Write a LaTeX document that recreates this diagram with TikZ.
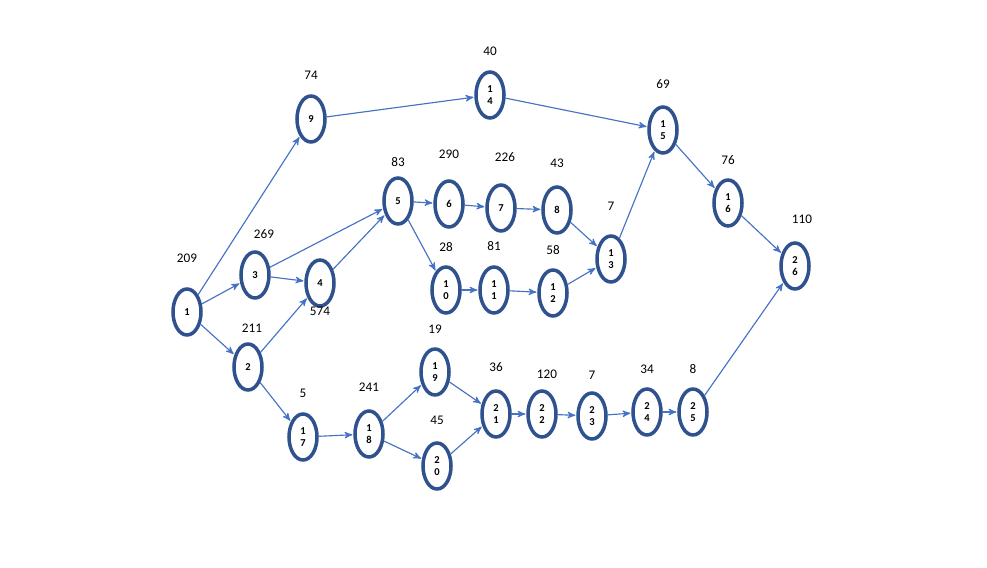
\documentclass[tikz,border=0pt]{standalone}
\usepackage{fontspec}
\setmainfont{Carlito}
\usetikzlibrary{shapes.geometric,positioning,arrows}

\definecolor{ringblue}{HTML}{2F528F}
\definecolor{arrowblue}{HTML}{4472C4}

\begin{document}
\begin{tikzpicture}[->,>=stealth',shorten >=0.5pt,on grid,
  every edge/.append style={arrowblue,line width=0.65pt},
  event/.style={ellipse,draw=ringblue,line width=2pt,inner sep=0pt,
    minimum width=0.56cm,minimum height=0.92cm,align=center,
    font=\fontsize{6}{7.2}\selectfont\bfseries},
  dur/.style={font=\fontsize{7.5}{8}\selectfont}]
   \useasboundingbox (0,0) rectangle (19.74,-11.34);
   \node[event] (n1)  at (3.74,-6.24) {1};
   \node[event] (n9)  [above right=3.86cm and 2.48cm of n1]  {9};
   \node[event] (n3)  [above right=0.74cm and 1.36cm of n1]  {3};
   \node[event] (n2)  [below right=1.1cm and 1.22cm of n1]   {2};
   \node[event] (n4)  [below right=0.16cm and 1.3cm of n3]   {4};
   \node[event] (n5)  [above right=1.64cm and 1.56cm of n4]  {5};
   \node[event] (n6)  [below right=0.06cm and 1.02cm of n5]  {6};
   \node[event] (n7)  [below right=0.08cm and 1.04cm of n6]  {7};
   \node[event] (n8)  [below right=0.04cm and 1.12cm of n7]  {8};
   \node[event] (n10) [below right=1.78cm and 0.96cm of n5]  {1\\0};
   \node[event] (n11) [right=0.96cm of n10]                  {1\\1};
   \node[event] (n12) [below right=0.06cm and 1.18cm of n11] {1\\2};
   \node[event] (n13) [above right=0.68cm and 1.16cm of n12] {1\\3};
   \node[event] (n14) [above right=0.48cm and 3.58cm of n9]  {1\\4};
   \node[event] (n15) [below right=0.7cm and 3.46cm of n14]  {1\\5};
   \node[event] (n16) [below right=1.46cm and 1.3cm of n15]  {1\\6};
   \node[event] (n26) [below right=1.26cm and 1.34cm of n16] {2\\6};
   \node[event] (n17) [below right=1.4cm and 1.1cm of n2]    {1\\7};
   \node[event] (n18) [above right=0.06cm and 1.32cm of n17] {1\\8};
   \node[event] (n19) [above right=1.24cm and 1.32cm of n18] {1\\9};
   \node[event] (n20) [below right=0.64cm and 1.36cm of n18] {2\\0};
   \node[event] (n21) [below right=0.84cm and 1.22cm of n19] {2\\1};
   \node[event] (n22) [right=0.92cm of n21]                  {2\\2};
   \node[event] (n23) [below right=0.04cm and 1cm of n22]    {2\\3};
   \node[event] (n24) [above right=0.08cm and 1.1cm of n23]  {2\\4};
   \node[event] (n25) [right=0.92cm of n24]                  {2\\5};
   % durations
   \node[dur] (d1)  [above=1.08cm of n1]                  {209};
   \node[dur] (d3)  [above right=0.82cm and 0.18cm of n3] {269};
   \node[dur] (d2)  [above right=0.78cm and 0.08cm of n2] {211};
   \node[dur] (d4)  [below=0.56cm of n4]                  {574};
   \node[dur] (d9)  [above=0.88cm of n9]                  {74};
   \node[dur] (d14) [above=0.88cm of n14]                 {40};
   \node[dur] (d5)  [above=0.78cm of n5]                  {83};
   \node[dur] (d6)  [above=1cm of n6]                     {290};
   \node[dur] (d7)  [above right=1.02cm and 0.08cm of n7] {226};
   \node[dur] (d8)  [above=0.94cm of n8]                  {43};
   \node[dur] (d13) [above=1.06cm of n13]                 {7};
   \node[dur] (d10) [above=0.86cm of n10]                 {28};
   \node[dur] (d11) [above=0.88cm of n11]                 {81};
   \node[dur] (d12) [above=0.86cm of n12]                 {58};
   \node[dur] (d15) [above=0.92cm of n15]                 {69};
   \node[dur] (d16) [above=0.86cm of n16]                 {76};
   \node[dur] (d26) [above right=0.94cm and 0.14cm of n26] {110};
   \node[dur] (d17) [above=0.88cm of n17]                 {5};
   \node[dur] (d18) [above=0.94cm of n18]                 {241};
   \node[dur] (d19) [above=0.86cm of n19]                 {19};
   \node[dur] (d20) [above=0.92cm of n20]                 {45};
   \node[dur] (d21) [above=0.94cm of n21]                 {36};
   \node[dur] (d22) [above right=0.8cm and 0.1cm of n22]  {120};
   \node[dur] (d23) [above=0.82cm of n23]                 {7};
   \node[dur] (d24) [above=0.86cm of n24]                 {34};
   \node[dur] (d25) [above=0.86cm of n25]                 {8};
   \path[->]
    (n1)  edge (n9)
          edge (n3)
          edge (n2)
    (n3)  edge (n4)
          edge (n5)
    (n2)  edge (n4)
          edge (n17)
    (n4)  edge (n5)
    (n9)  edge (n14)
    (n14) edge (n15)
    (n5)  edge (n6)
          edge (n10)
    (n6)  edge (n7)
    (n7)  edge (n8)
    (n8)  edge (n13)
    (n10) edge (n11)
    (n11) edge (n12)
    (n12) edge (n13)
    (n13) edge (n15)
    (n15) edge (n16)
    (n16) edge (n26)
    (n17) edge (n18)
    (n18) edge (n19)
          edge (n20)
    (n19) edge (n21)
    (n20) edge (n21)
    (n21) edge (n22)
    (n22) edge (n23)
    (n23) edge (n24)
    (n24) edge (n25)
    (n25) edge (n26);
\end{tikzpicture}
\end{document}
